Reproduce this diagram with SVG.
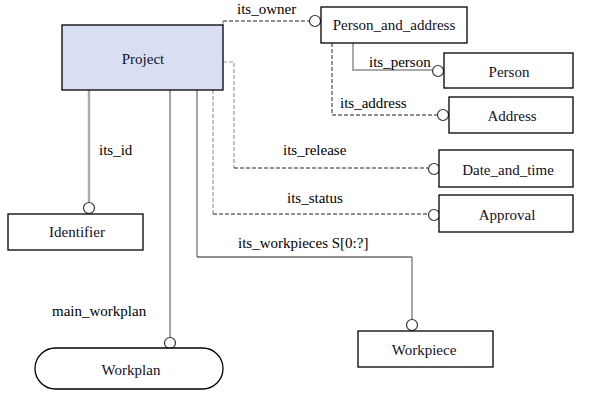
<svg xmlns="http://www.w3.org/2000/svg" width="591" height="400" viewBox="0 0 591 400">
<style>
.box{fill:#fff;stroke:#000;stroke-width:1.3}
.nt{font-family:'Liberation Serif','Times New Roman','DejaVu Serif',serif;font-size:15px;fill:#10102a;text-anchor:middle}
.lb{font-family:'Liberation Serif','Times New Roman','DejaVu Serif',serif;font-size:15px;fill:#000}
.c{fill:#fff;stroke:#333;stroke-width:1.2}
.dg{fill:none;stroke:#999;stroke-width:1.2;stroke-dasharray:4 2}
.dk{fill:none;stroke:#222;stroke-width:1;stroke-dasharray:4 2}
.sg{fill:none;stroke:#aaa;stroke-width:2.5}
.sp{fill:none;stroke:#aaa;stroke-width:2}
.sm{fill:none;stroke:#888;stroke-width:1.5}
.sk{fill:none;stroke:#222;stroke-width:1.2}
</style>
<rect width="591" height="400" fill="#fff"/>
<g id="connectors">
<path class="dg" d="M223,25 V21"/>
<path class="dk" d="M223,21 H309"/>
<path class="sp" d="M353,43 V70 H432"/>
<path class="dk" d="M332,43 V115 H437"/>
<path class="dg" d="M223,62 H234 V168"/>
<path class="dk" d="M234,168 H428"/>
<path class="dg" d="M213,90 V214"/>
<path class="dk" d="M213,214 H428"/>
<path class="sg" d="M89,90 V202"/>
<path class="sm" d="M170,90 V337"/>
<path class="sm" d="M197,90 V257"/>
<path class="sk" d="M197,257 H412"/>
<path class="sm" d="M412,257 V319"/>
<circle class="c" cx="315" cy="21" r="5.5"/>
<circle class="c" cx="438" cy="71" r="5.5"/>
<circle class="c" cx="443" cy="115" r="5.5"/>
<circle class="c" cx="434" cy="169" r="5.5"/>
<circle class="c" cx="434" cy="215" r="5.5"/>
<circle class="c" cx="89" cy="208" r="5.5"/>
<circle class="c" cx="170" cy="343" r="5.5"/>
<circle class="c" cx="412" cy="325" r="5.5"/>
<text class="lb" x="237" y="14">its_owner</text>
<text class="lb" x="369" y="67">its_person</text>
<text class="lb" x="340" y="108">its_address</text>
<text class="lb" x="283" y="155">its_release</text>
<text class="lb" x="287" y="203">its_status</text>
<text class="lb" x="238" y="248">its_workpieces S[0:?]</text>
<text class="lb" x="99" y="155">its_id</text>
<text class="lb" x="52" y="316">main_workplan</text>
</g>
<g id="project"><rect x="62" y="25" width="161" height="65" fill="#d9dff3" stroke="#000" stroke-width="1.3"/><text class="nt" x="143" y="64">Project</text></g>
<g id="person_and_address"><rect class="box" x="321" y="7" width="146" height="36"/><text class="nt" x="394" y="30">Person_and_address</text></g>
<g id="person"><rect class="box" x="444" y="53" width="129" height="35"/><text class="nt" x="509" y="77">Person</text></g>
<g id="address"><rect class="box" x="449" y="97" width="124" height="36"/><text class="nt" x="512" y="121">Address</text></g>
<g id="date_and_time"><rect class="box" x="439" y="150" width="134" height="37"/><text class="nt" x="508" y="175">Date_and_time</text></g>
<g id="approval"><rect class="box" x="439" y="195" width="134" height="37"/><text class="nt" x="507" y="220">Approval</text></g>
<g id="identifier"><rect class="box" x="8" y="214" width="135" height="36"/><text class="nt" x="77" y="237">Identifier</text></g>
<g id="workpiece"><rect class="box" x="358" y="331" width="135" height="36"/><text class="nt" x="424" y="355">Workpiece</text></g>
<g id="workplan"><rect class="box" x="35" y="348" width="188" height="41" rx="20.5" ry="20.5"/><text class="nt" x="131" y="375">Workplan</text></g>
</svg>
